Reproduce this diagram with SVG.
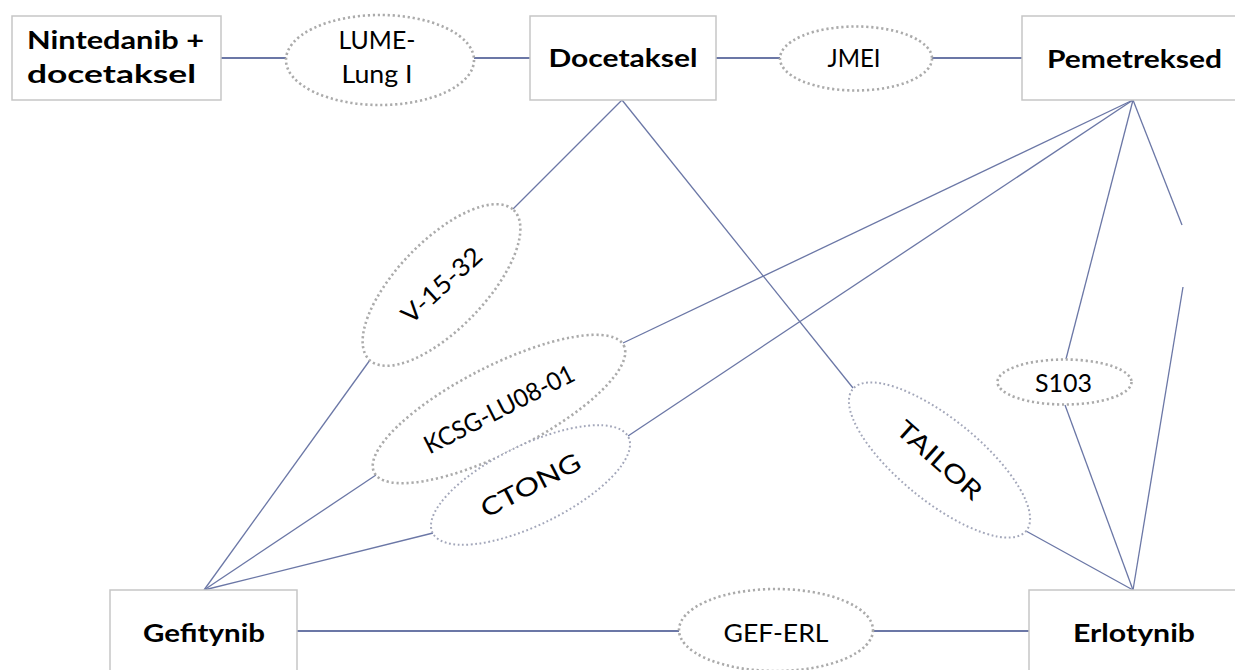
<svg xmlns="http://www.w3.org/2000/svg" width="1235" height="670" viewBox="0 0 1235 670">
  <style>
    .box { fill: #ffffff; stroke: #c6c6c6; stroke-width: 1.5; }
    .trial { fill: #ffffff; stroke: #ababab; stroke-width: 2.6; stroke-dasharray: 2.2 2.8; }
    .trial-b { fill: #ffffff; stroke: #a3a7ba; stroke-width: 2; stroke-dasharray: 1.8 2.6; }
    .edge { fill: none; stroke: #6b77a6; stroke-width: 1.3; }
    .edge-h { fill: none; stroke: #6b77a6; stroke-width: 2; }
    .lbl { font-family: Lato, "Open Sans", "DejaVu Sans", sans-serif; font-size: 25px; fill: #000000; }
    .bold { font-weight: bold; }
  </style>

  <g id="connectors">
    <!-- horizontal links -->
    <line class="edge-h" x1="221" y1="58" x2="286" y2="58"/>
    <line class="edge-h" x1="474" y1="58" x2="530" y2="58"/>
    <line class="edge-h" x1="716" y1="58" x2="780" y2="58"/>
    <line class="edge-h" x1="932" y1="58" x2="1022" y2="58"/>
    <line class="edge-h" x1="297" y1="631" x2="679" y2="631"/>
    <line class="edge-h" x1="872" y1="631" x2="1029" y2="631"/>
    <!-- Docetaksel links -->
    <line class="edge" x1="622" y1="100" x2="513" y2="209"/>
    <line class="edge" x1="370" y1="360" x2="204" y2="590"/>
    <line class="edge" x1="622" y1="100" x2="853" y2="388"/>
    <line class="edge" x1="1026" y1="531" x2="1133" y2="590"/>
    <!-- Pemetreksed links -->
    <line class="edge" x1="1133" y1="100" x2="623" y2="343"/>
    <line class="edge" x1="376" y1="475" x2="204" y2="590"/>
    <line class="edge" x1="1133" y1="100" x2="628" y2="436"/>
    <line class="edge" x1="433" y1="533" x2="204" y2="590"/>
    <line class="edge" x1="1133" y1="100" x2="1066" y2="359"/>
    <line class="edge" x1="1065" y1="405" x2="1133" y2="590"/>
    <line class="edge" x1="1133" y1="100" x2="1182" y2="225"/>
    <line class="edge" x1="1183" y1="287" x2="1133" y2="590"/>
  </g>

  <g id="node-nintedanib">
    <rect class="box" x="12" y="16" width="209" height="84"/>
    <text class="lbl bold" x="27" y="49" textLength="177" lengthAdjust="spacingAndGlyphs">Nintedanib +</text>
    <text class="lbl bold" x="27" y="83" textLength="169" lengthAdjust="spacingAndGlyphs">docetaksel</text>
  </g>

  <g id="trial-lume">
    <ellipse class="trial" cx="380" cy="60" rx="94" ry="45"/>
    <text class="lbl" x="377" y="49" text-anchor="middle" textLength="77" lengthAdjust="spacingAndGlyphs">LUME-</text>
    <text class="lbl" x="377" y="83" text-anchor="middle" textLength="71" lengthAdjust="spacingAndGlyphs">Lung I</text>
  </g>

  <g id="node-docetaksel">
    <rect class="box" x="530" y="16" width="186" height="84"/>
    <text class="lbl bold" x="623" y="67" text-anchor="middle" textLength="149" lengthAdjust="spacingAndGlyphs">Docetaksel</text>
  </g>

  <g id="trial-jmei">
    <ellipse class="trial" cx="856" cy="58.5" rx="76" ry="32"/>
    <text class="lbl" x="854" y="67" text-anchor="middle" textLength="53" lengthAdjust="spacingAndGlyphs">JMEI</text>
  </g>

  <g id="node-pemetreksed">
    <rect class="box" x="1022" y="16" width="225" height="84"/>
    <text class="lbl bold" x="1134.5" y="68" text-anchor="middle" textLength="175" lengthAdjust="spacingAndGlyphs">Pemetreksed</text>
  </g>

  <g id="trial-v1532" transform="translate(441.5 285) rotate(-46)">
    <ellipse class="trial" cx="0" cy="0" rx="104" ry="44"/>
    <text class="lbl" x="0" y="9" text-anchor="middle" transform="rotate(3.5)" textLength="99" lengthAdjust="spacingAndGlyphs">V-15-32</text>
  </g>

  <g id="trial-kcsg" transform="translate(499 409) rotate(-27)">
    <ellipse class="trial" cx="0" cy="0" rx="140" ry="43"/>
    <text class="lbl" x="0" y="9" text-anchor="middle" textLength="165" lengthAdjust="spacingAndGlyphs">KCSG-LU08-01</text>
  </g>

  <g id="trial-ctong" transform="translate(530.5 485) rotate(-26)">
    <ellipse class="trial-b" cx="0" cy="0" rx="109" ry="40"/>
    <text class="lbl" x="0" y="9" text-anchor="middle" transform="rotate(-1.5)" textLength="109" lengthAdjust="spacingAndGlyphs">CTONG</text>
  </g>

  <g id="trial-tailor" transform="translate(939.5 460) rotate(39.2)">
    <ellipse class="trial-b" cx="0" cy="0" rx="112" ry="41"/>
    <text class="lbl" x="0" y="9" text-anchor="middle" transform="rotate(2.5)" textLength="105" lengthAdjust="spacingAndGlyphs">TAILOR</text>
  </g>

  <g id="trial-s103">
    <ellipse class="trial" cx="1064.5" cy="382" rx="67" ry="22.5"/>
    <text class="lbl" x="1063.5" y="391.5" text-anchor="middle" textLength="57" lengthAdjust="spacingAndGlyphs">S103</text>
  </g>

  <g id="node-gefitynib">
    <rect class="box" x="110" y="590" width="187" height="100"/>
    <text class="lbl bold" x="204" y="641.5" text-anchor="middle" textLength="122" lengthAdjust="spacingAndGlyphs">Gefitynib</text>
  </g>

  <g id="trial-gef-erl">
    <ellipse class="trial" cx="776" cy="630" rx="97" ry="41"/>
    <text class="lbl" x="776" y="641.5" text-anchor="middle" textLength="105" lengthAdjust="spacingAndGlyphs">GEF-ERL</text>
  </g>

  <g id="node-erlotynib">
    <rect class="box" x="1029" y="590" width="211" height="100"/>
    <text class="lbl bold" x="1134" y="641.5" text-anchor="middle" textLength="122" lengthAdjust="spacingAndGlyphs">Erlotynib</text>
  </g>
</svg>
